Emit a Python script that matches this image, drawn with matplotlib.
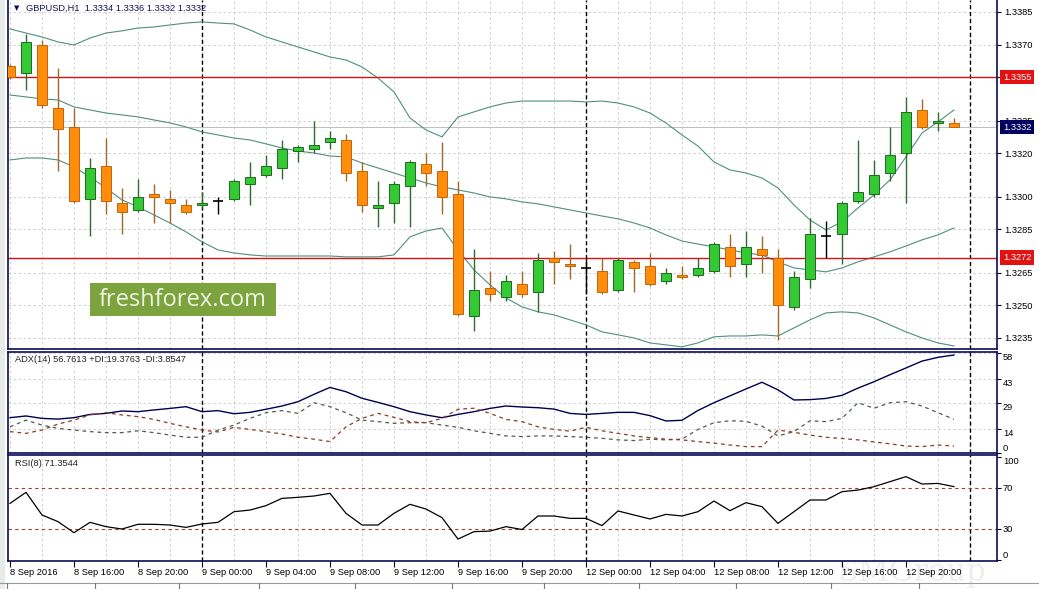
import matplotlib
matplotlib.use("Agg")
import matplotlib.pyplot as plt
import matplotlib.patches as mpatches
import numpy as np
import pandas as pd

# ---- data (GBPUSD H1) ----
bar_times = list(pd.date_range("2016-09-08 12:00", "2016-09-08 23:00", freq="h")) + \
            list(pd.date_range("2016-09-09 00:00", "2016-09-09 23:00", freq="h")) + \
            list(pd.date_range("2016-09-12 00:00", "2016-09-12 23:00", freq="h"))

opens = [1.3360, 1.3357, 1.3370, 1.3341, 1.3332, 1.3299, 1.3314, 1.3297, 1.3294, 1.3301,
         1.3299, 1.3296, 1.3296, 1.3298, 1.3299, 1.3306, 1.3310, 1.3313, 1.3321, 1.3322,
         1.3325, 1.3326, 1.3312, 1.3295, 1.3297, 1.3305, 1.3315, 1.3312, 1.3301, 1.3245,
         1.3258, 1.3254, 1.3260, 1.3256, 1.3272, 1.3269, 1.3267, 1.3266, 1.3257, 1.3270,
         1.3268, 1.3261, 1.3264, 1.3264, 1.3266, 1.3277, 1.3269, 1.3276, 1.3272, 1.3249,
         1.3262, 1.3282, 1.3283, 1.3298, 1.3301, 1.3311, 1.3320, 1.3340, 1.3334, 1.3334]
highs = [1.3361, 1.3375, 1.3372, 1.3359, 1.3341, 1.3318, 1.3327, 1.3304, 1.3308, 1.3306,
         1.3303, 1.3299, 1.3302, 1.3300, 1.3308, 1.3316, 1.3319, 1.3326, 1.3324, 1.3335,
         1.3330, 1.3329, 1.3316, 1.3307, 1.3307, 1.3317, 1.3320, 1.3325, 1.3307, 1.3276,
         1.3266, 1.3264, 1.3266, 1.3274, 1.3275, 1.3278, 1.3272, 1.3272, 1.3272, 1.3271,
         1.3274, 1.3267, 1.3268, 1.3272, 1.3279, 1.3283, 1.3284, 1.3282, 1.3276, 1.3266,
         1.3290, 1.3289, 1.3298, 1.3326, 1.3317, 1.3332, 1.3346, 1.3345, 1.3339, 1.3336]
lows = [1.3354, 1.3349, 1.3341, 1.3312, 1.3297, 1.3282, 1.3292, 1.3283, 1.3293, 1.3288,
        1.3288, 1.3292, 1.3295, 1.3292, 1.3298, 1.3296, 1.3309, 1.3308, 1.3316, 1.3320,
        1.3322, 1.3307, 1.3293, 1.3286, 1.3288, 1.3286, 1.3305, 1.3292, 1.3245, 1.3238,
        1.3252, 1.3252, 1.3254, 1.3247, 1.3260, 1.3262, 1.3255, 1.3255, 1.3256, 1.3256,
        1.3259, 1.3260, 1.3262, 1.3263, 1.3265, 1.3263, 1.3263, 1.3265, 1.3234, 1.3248,
        1.3258, 1.3272, 1.3269, 1.3297, 1.3300, 1.3307, 1.3297, 1.3331, 1.3330, 1.3332]
closes = [1.3355, 1.3371, 1.3342, 1.3331, 1.3298, 1.3313, 1.3298, 1.3293, 1.3300, 1.3300,
          1.3297, 1.3293, 1.3297, 1.3298, 1.3307, 1.3309, 1.3314, 1.3322, 1.3323, 1.3324,
          1.3327, 1.3311, 1.3296, 1.3296, 1.3306, 1.3316, 1.3311, 1.3300, 1.3246, 1.3257,
          1.3255, 1.3261, 1.3255, 1.3271, 1.3270, 1.3268, 1.3267, 1.3256, 1.3271, 1.3267,
          1.3260, 1.3265, 1.3263, 1.3267, 1.3278, 1.3268, 1.3277, 1.3273, 1.3250, 1.3263,
          1.3283, 1.3282, 1.3297, 1.3302, 1.3310, 1.3319, 1.3339, 1.3332, 1.3335, 1.3332]

bb_upper = [1.33772, 1.33753, 1.33735, 1.33712, 1.33698, 1.33730, 1.33753, 1.33763, 1.33776, 1.33781,
            1.33790, 1.33799, 1.33804, 1.33799, 1.33795, 1.33767, 1.33735, 1.33712, 1.33689, 1.33666,
            1.33643, 1.33629, 1.33597, 1.33546, 1.33482, 1.33362, 1.33307, 1.33275, 1.33367, 1.33390,
            1.33413, 1.33431, 1.33440, 1.33440, 1.33440, 1.33440, 1.33436, 1.33440, 1.33431, 1.33413,
            1.33385, 1.33339, 1.33284, 1.33233, 1.33160, 1.33123, 1.33109, 1.33086, 1.33040, 1.32962,
            1.32893, 1.32847, 1.32884, 1.32948, 1.33008, 1.33077, 1.33183, 1.33293, 1.33344, 1.33399]
bb_middle = [1.33468, 1.33459, 1.33450, 1.33445, 1.33413, 1.33399, 1.33385, 1.33376, 1.33367, 1.33353,
             1.33339, 1.33321, 1.33298, 1.33284, 1.33270, 1.33261, 1.33243, 1.33224, 1.33210, 1.33201,
             1.33187, 1.33183, 1.33155, 1.33132, 1.33109, 1.33086, 1.33063, 1.33045, 1.33031, 1.33017,
             1.32999, 1.32990, 1.32976, 1.32967, 1.32953, 1.32939, 1.32925, 1.32911, 1.32898, 1.32879,
             1.32856, 1.32824, 1.32796, 1.32782, 1.32769, 1.32755, 1.32741, 1.32732, 1.32700, 1.32672,
             1.32663, 1.32654, 1.32672, 1.32700, 1.32723, 1.32746, 1.32773, 1.32801, 1.32824, 1.32856]
bb_lower = [1.33169, 1.33178, 1.33178, 1.33169, 1.33137, 1.33091, 1.33040, 1.32985, 1.32953, 1.32916,
            1.32879, 1.32838, 1.32792, 1.32755, 1.32741, 1.32732, 1.32727, 1.32727, 1.32727, 1.32727,
            1.32727, 1.32723, 1.32723, 1.32723, 1.32732, 1.32815, 1.32842, 1.32856, 1.32755, 1.32663,
            1.32594, 1.32534, 1.32493, 1.32470, 1.32456, 1.32433, 1.32410, 1.32378, 1.32364, 1.32350,
            1.32327, 1.32318, 1.32309, 1.32327, 1.32355, 1.32359, 1.32359, 1.32364, 1.32359, 1.32396,
            1.32433, 1.32465, 1.32470, 1.32465, 1.32442, 1.32410, 1.32378, 1.32350, 1.32327, 1.32313]

adx = [20.3, 21.3, 19.9, 19.5, 20.3, 22.2, 22.8, 24.2, 23.8, 24.8,
       25.7, 26.7, 23.8, 24.4, 22.6, 23.4, 25.2, 27.1, 29.6, 33.9,
       37.9, 35.4, 31.6, 29.2, 26.7, 23.8, 21.9, 20.3, 22.2, 23.8,
       25.7, 27.1, 26.5, 26.1, 25.3, 22.8, 22.2, 22.8, 23.4, 23.4,
       21.5, 18.4, 18.8, 24.5, 29.0, 33.0, 37.0, 40.9, 36.5, 30.6,
       30.8, 31.5, 33.3, 37.5, 41.2, 45.3, 49.2, 53.2, 55.4, 56.7613]
plus_di = [15.0, 18.9, 16.0, 14.1, 13.1, 12.2, 11.6, 11.6, 12.7, 11.6,
           10.2, 8.9, 8.9, 13.1, 16.0, 19.9, 23.2, 24.4, 22.8, 29.0,
           26.7, 23.2, 18.9, 18.0, 17.0, 17.4, 17.4, 16.0, 14.7, 12.7,
           11.2, 9.7, 9.3, 9.7, 9.7, 9.3, 8.9, 8.3, 7.4, 7.0,
           7.8, 7.4, 7.8, 13.5, 17.4, 18.5, 18.2, 15.4, 9.7, 12.2,
           18.5, 18.0, 19.9, 29.0, 25.8, 29.0, 29.6, 27.1, 23.2, 19.3763]
minus_di = [12.2, 11.2, 13.1, 16.6, 18.9, 21.9, 23.2, 21.9, 20.9, 19.3,
            17.0, 15.0, 13.1, 12.0, 14.7, 13.5, 12.2, 10.8, 8.9, 7.8,
            6.4, 15.0, 19.9, 22.8, 20.5, 18.0, 17.4, 19.9, 25.2, 25.8,
            22.8, 19.3, 18.0, 15.0, 13.5, 12.5, 14.7, 12.7, 11.2, 9.7,
            8.7, 7.8, 7.4, 6.4, 5.5, 4.4, 3.5, 3.5, 13.1, 11.8,
            10.2, 8.9, 8.2, 7.4, 6.2, 5.1, 3.8, 3.5, 4.4, 3.8547]
rsi = [55.0, 65.8, 43.7, 37.2, 26.4, 36.5, 32.3, 30.0, 34.6, 34.6,
       33.9, 31.6, 34.9, 36.5, 46.9, 48.5, 52.8, 59.9, 60.9, 62.2,
       64.8, 45.3, 33.9, 33.9, 45.3, 54.1, 49.5, 41.1, 20.2, 27.4,
       28.0, 32.3, 29.5, 42.7, 42.7, 40.4, 40.4, 33.3, 47.6, 43.7,
       39.8, 44.3, 42.7, 46.9, 57.3, 47.9, 55.7, 51.8, 35.5, 46.9,
       58.3, 58.3, 66.4, 68.0, 71.3, 76.2, 81.1, 73.9, 74.5, 71.3544]

levels = [1.3355, 1.3272]
price_ticks = [1.3385, 1.3370, 1.3355, 1.3335, 1.3320, 1.3300, 1.3285, 1.3265, 1.3250, 1.3235]
adx_ticks = [0, 14, 29, 43, 58]
rsi_ticks = [0, 30, 70, 100]
rsi_levels = [30, 70]

# ---- style ----
W, H = 1039, 589
FS = 6.7
NAVY = "#0b0b55"
GRID = "#c9c9c9"
plt.rcParams['font.family'] = ['Liberation Sans', 'DejaVu Sans']
plt.rcParams['font.size'] = FS

o = np.array(opens); h = np.array(highs); l = np.array(lows); c = np.array(closes)
x = np.arange(len(o))
XMIN, XMAX = -0.125, 61.69


def box(left, top, right, bottom):
    return [left / W, 1 - bottom / H, (right - left) / W, (bottom - top) / H]


fig = plt.figure(figsize=(W / 100, H / 100), dpi=100)
fig.patch.set_facecolor("white")

ax = fig.add_axes(box(8, 0, 997, 349))
ax_adx = fig.add_axes(box(8, 352, 997, 452.6))
ax_rsi = fig.add_axes(box(8, 455, 997, 561))

# day separators (first bar of each new day, plus next day)
days = [t.date() for t in bar_times]
day_starts = [i for i in range(1, len(days)) if days[i] != days[i - 1]] + [len(days)]

for a in (ax, ax_adx, ax_rsi):
    a.set_xlim(XMIN, XMAX)
    a.set_axisbelow(True)
    for s in a.spines.values():
        s.set_color(NAVY)
        s.set_linewidth(1.2)
    a.set_xticks(np.arange(0, 62, 2), minor=True)
    a.grid(which="minor", axis="x", color=GRID, ls=(0, (3, 3)), lw=0.6)
    a.tick_params(which="minor", length=0)
    a.yaxis.tick_right()
    for d in day_starts:
        a.axvline(d, color="black", ls=(0, (3, 2)), lw=1, zorder=1.5)
ax.spines["top"].set_visible(False)

# ---- main panel: candles + bands ----
ax.set_ylim(1.32299, 1.33905)
ax.set_xticks([])
ax.set_yticks(price_ticks)
ax.set_yticklabels([f"{v:.4f}" for v in price_ticks])
ax.tick_params(axis="y", which="major", length=3, pad=2, labelsize=FS, color="black")
ax.grid(which="major", axis="y", color=GRID, ls=(0, (3, 3)), lw=0.6)

for band in (bb_upper, bb_middle, bb_lower):
    ax.plot(x, band, color="#4f8f7c", lw=0.8, zorder=2)

up = c > o
dn = c < o
fl = c == o
bw = 0.62
ax.vlines(x[up], l[up], h[up], color="#2f6a2f", lw=1, zorder=3)
ax.vlines(x[dn], l[dn], h[dn], color="#a0662a", lw=1, zorder=3)
ax.vlines(x[fl], l[fl], h[fl], color="black", lw=1, zorder=3)
ax.bar(x[up], (c - o)[up], bottom=o[up], width=bw, color="#34c934",
       edgecolor="#1d6b1d", lw=0.7, zorder=4)
ax.bar(x[dn], (o - c)[dn], bottom=c[dn], width=bw, color="#ff8c0a",
       edgecolor="#c0650a", lw=0.7, zorder=4)
ax.hlines(o[fl], x[fl] - bw / 2, x[fl] + bw / 2, color="black", lw=1.2, zorder=4)

# bid line and horizontal levels
ax.axhline(c[-1], color="#bdbdbd", lw=0.7, zorder=1.6)
for lv in levels:
    ax.axhline(lv, color="#d41414", lw=1, zorder=2.5)
    ax.text(1.006, lv, f"{lv:.4f}", transform=ax.get_yaxis_transform(), ha="left",
            va="center", color="white", fontsize=FS, clip_on=False, zorder=6,
            bbox=dict(boxstyle="square,pad=0.3", fc="#e31212", ec="none"))
ax.text(1.006, c[-1], f"{c[-1]:.4f}", transform=ax.get_yaxis_transform(), ha="left",
        va="center", color="white", fontsize=FS, clip_on=False, zorder=6,
        bbox=dict(boxstyle="square,pad=0.3", fc="#00005e", ec="none"))

# ---- ADX panel ----
ax_adx.set_ylim(0, 58.5)
ax_adx.set_xticks([])
ax_adx.set_yticks(adx_ticks)
ax_adx.tick_params(axis="y", length=3, labelright=False, color="black")
ax_adx.grid(which="major", axis="y", color=GRID, ls=(0, (3, 3)), lw=0.6)
ax_adx.plot(x, adx, color="#00004f", lw=1.0, zorder=3)
ax_adx.plot(x, plus_di, color="#4b5e4b", lw=0.9, ls=(0, (3, 3)), zorder=3)
ax_adx.plot(x, minus_di, color="#8c3a28", lw=0.9, ls=(0, (3, 3)), zorder=3)
for v in adx_ticks:
    ax_adx.text(1.006, v, str(v), transform=ax_adx.get_yaxis_transform(), ha="left",
                va="bottom" if v == 0 else "top", fontsize=FS, clip_on=False)

# ---- RSI panel ----
ax_rsi.set_ylim(-1.2, 102.2)
ax_rsi.set_yticks(rsi_ticks)
ax_rsi.tick_params(axis="y", length=3, labelright=False, color="black")
for lv in rsi_levels:
    ax_rsi.axhline(lv, color="#a33c30", lw=0.8, ls=(0, (3, 3)), zorder=2)
ax_rsi.plot(x, rsi, color="black", lw=0.9, zorder=3)
for v in rsi_ticks:
    va = "top" if v == 100 else ("bottom" if v == 0 else "center")
    ax_rsi.text(1.006, v, str(v), transform=ax_rsi.get_yaxis_transform(), ha="left",
                va=va, fontsize=FS, clip_on=False)

label_bars = list(range(0, len(x), 4))
labels = []
for i in label_bars:
    t = bar_times[i]
    labels.append(f"{t.day} {t:%b} {t.year}" if i == 0 else f"{t.day} {t:%b %H:%M}")
ax_rsi.set_xticks(label_bars)
ax_rsi.set_xticklabels(labels, ha="left")
ax_rsi.tick_params(axis="x", length=4, pad=1, labelsize=FS, color="black")

# ---- texts and decorations ----
fig.text(17 / W, 1 - 8.5 / H, "\u25bc", family="DejaVu Sans", fontsize=5, color=NAVY,
         ha="center", va="center")
fig.text(26 / W, 1 - 8 / H,
         f"GBPUSD,H1  {o[-1]:.4f} {h[-1]:.4f} {l[-1]:.4f} {c[-1]:.4f}",
         color="#15155a", fontsize=FS, ha="left", va="center")
fig.text(15 / W, 1 - 360 / H,
         f"ADX(14) {adx[-1]:.4f} +DI:{plus_di[-1]:.4f} -DI:{minus_di[-1]:.4f}",
         color="#222222", fontsize=FS, ha="left", va="center")
fig.text(15 / W, 1 - 464 / H, f"RSI(8) {rsi[-1]:.4f}", color="#222222",
         fontsize=FS, ha="left", va="center")

# freshforex badge
fig.patches.append(mpatches.Rectangle((90 / W, 1 - 316 / H), 186 / W, 33 / H,
                                      transform=fig.transFigure, fc="#7ca33d",
                                      ec="none", zorder=5))
fig.text(183 / W, 1 - 300 / H, "freshforex.com", family=["Open Sans", "DejaVu Sans"],
         fontsize=17, color="#eef3e4", ha="center", va="center", zorder=6)

# faint watermark bottom right (drawn behind the panels)
fig.text(912 / W, 1 - 572 / H, "SMGroup", family=["DejaVu Serif", "DejaVu Sans"],
         fontsize=22, color="#eeeeee", ha="center", va="center", zorder=-1)

# left strip and bottom tab bar
fig.patches.append(mpatches.Rectangle((0, 0), 5 / W, 1, transform=fig.transFigure,
                                      fc="#e8ece8", ec="none"))
fig.add_artist(plt.Line2D([0, 1], [1 - 583 / H] * 2, transform=fig.transFigure,
                          color="#9a9a9a", lw=0.8))
for tx in (7, 95, 179, 259, 355, 452, 544, 639, 736, 831, 919):
    fig.add_artist(plt.Line2D([tx / W] * 2, [0, 1 - 583 / H], transform=fig.transFigure,
                              color="#7a7a7a", lw=0.8))

fig.savefig("out.png", dpi=100, facecolor="white")
